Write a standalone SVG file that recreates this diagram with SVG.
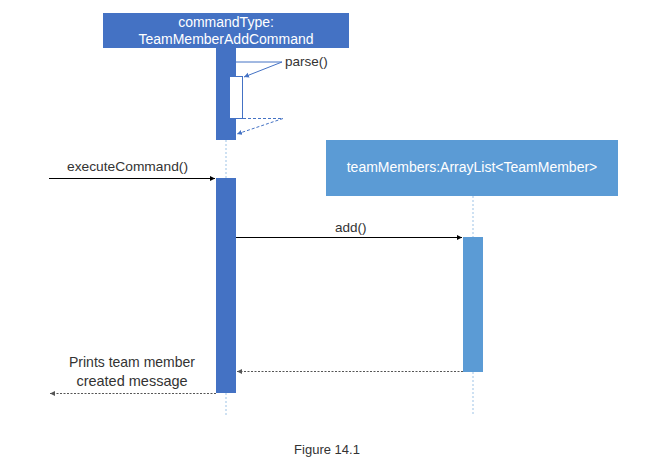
<svg xmlns="http://www.w3.org/2000/svg" width="649" height="472" viewBox="0 0 649 472">
<style>
.hdr{fill:#fff;font-family:"Liberation Sans",Arial,sans-serif;font-size:14px;text-anchor:middle}
.lbl{fill:#333;font-family:"Liberation Sans",Arial,sans-serif;font-size:13.5px}
.big{font-size:14.5px}
.life{stroke:#9DC3E6;stroke-width:1;stroke-dasharray:2,2;fill:none}
.call{stroke:#000;stroke-width:1;fill:none}
.ret{stroke:#555;stroke-width:1;stroke-dasharray:2,1.5;fill:none}
.self{stroke:#4472C4;stroke-width:1;fill:none}
.selfd{stroke:#4472C4;stroke-width:1;stroke-dasharray:3,2;fill:none}
</style>
<defs>
<marker id="ab" markerWidth="6" markerHeight="6" refX="5" refY="3" orient="auto" markerUnits="userSpaceOnUse"><path d="M0,0.5 L5,3 L0,5.5 Z" fill="#000"/></marker>
<marker id="ag" markerWidth="6" markerHeight="6" refX="5" refY="3" orient="auto" markerUnits="userSpaceOnUse"><path d="M0,0.5 L5,3 L0,5.5 Z" fill="#555"/></marker>
<marker id="bl" markerWidth="6" markerHeight="6" refX="5" refY="3" orient="auto" markerUnits="userSpaceOnUse"><path d="M0,0.5 L5,3 L0,5.5 Z" fill="#4472C4"/></marker>
</defs>
<rect width="649" height="472" fill="#fff"/>

<g id="lifelines">
<line class="life" x1="226" y1="140" x2="226" y2="178"/>
<line class="life" x1="226" y1="393" x2="226" y2="415"/>
<line class="life" x1="473" y1="196" x2="473" y2="237"/>
<line class="life" x1="473" y1="372" x2="473" y2="415"/>
</g>

<g id="commandType">
<rect x="103" y="13" width="246" height="35" fill="#4472C4"/>
<text class="hdr" x="226" y="27">commandType:</text>
<text class="hdr" x="226" y="44">TeamMemberAddCommand</text>
<rect x="216" y="48" width="20" height="92" fill="#4472C4"/>
<rect x="229.5" y="76.5" width="13" height="42" fill="#fff" stroke="#4472C4" stroke-width="1"/>
<rect x="216" y="178" width="20" height="215" fill="#4472C4"/>
</g>

<g id="teamMembers">
<rect x="326" y="140" width="292" height="56" fill="#5B9BD5"/>
<text class="hdr" x="472" y="172">teamMembers:ArrayList&lt;TeamMember&gt;</text>
<rect x="463" y="237" width="20" height="135" fill="#5B9BD5"/>
</g>

<g id="connectors">
<polyline class="self" points="236,62 282,62"/>
<line class="self" x1="282" y1="62" x2="244" y2="77" marker-end="url(#bl)"/>
<line class="selfd" x1="243" y1="118.5" x2="283" y2="118.5"/>
<line class="selfd" x1="283" y1="118.5" x2="237" y2="134" marker-end="url(#bl)"/>
<line class="call" x1="49" y1="178.5" x2="215" y2="178.5" marker-end="url(#ab)"/>
<line class="call" x1="236" y1="237.5" x2="462" y2="237.5" marker-end="url(#ab)"/>
<line class="ret" x1="463" y1="371.5" x2="237" y2="371.5" marker-end="url(#ag)"/>
<line class="ret" x1="216" y1="393.5" x2="50" y2="393.5" marker-end="url(#ag)"/>
</g>

<g id="labels">
<text class="lbl" x="285" y="66">parse()</text>
<text class="lbl" x="67" y="171" textLength="121" lengthAdjust="spacingAndGlyphs">executeCommand()</text>
<text class="lbl" x="335" y="232">add()</text>
<text class="lbl big" x="132" y="367" text-anchor="middle" textLength="126" lengthAdjust="spacingAndGlyphs">Prints team member</text>
<text class="lbl big" x="132" y="386" text-anchor="middle">created message</text>
<text x="327" y="454" font-family="'Liberation Sans',Arial,sans-serif" font-size="13" fill="#333" text-anchor="middle">Figure 14.1</text>
</g>
</svg>
